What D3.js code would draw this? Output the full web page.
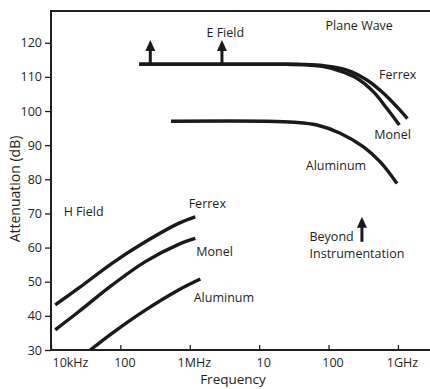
<!DOCTYPE html>
<html>
<head>
<meta charset="utf-8">
<script src="https://cdn.jsdelivr.net/npm/d3@7/dist/d3.min.js"></script>
<style>
  html, body { margin: 0; padding: 0; background: #fff; }
  text { font-family: "Open Sans", sans-serif; fill: #231f20; }
</style>
</head>
<body>
<svg id="chart" width="430" height="389"></svg>
<script>
// ---- data (frequency in Hz, attenuation in dB) ----
const xTickValues = [1e4, 1e5, 1e6, 1e7, 1e8, 1e9];
const xTickLabels = ["10kHz", "100", "1MHz", "10", "100", "1GHz"];
const yTickValues = [30, 40, 50, 60, 70, 80, 90, 100, 110, 120];

// Plane wave (E field) curves
const eFerrexFreq = [1.87e5, 1.5e7, 4.2e7, 8.5e7, 1.84e8, 3.57e8, 6.2e8, 9.7e8, 1.37e9];
const eFerrexDb   = [113.7, 113.7, 113.65, 113.3, 112.0, 109.1, 105.2, 101.2, 97.8];
const eMonelFreq  = [1.87e5, 1.5e7, 4.2e7, 8.5e7, 1.47e8, 2.56e8, 4.45e8, 6.9e8, 1.05e9];
const eMonelDb    = [113.7, 113.7, 113.6, 113.0, 111.7, 109.6, 105.6, 100.8, 95.9];
const eAlumFreq   = [5.36e5, 1.2e7, 3.2e7, 6.8e7, 1.47e8, 3.19e8, 5.56e8, 9.7e8];
const eAlumDb     = [97.0, 97.0, 96.7, 95.9, 93.5, 89.5, 85.1, 78.8];

// H field curves
const hFerrexFreq = [1.15e4, 2.5e4, 7.57e4, 2.29e5, 6.9e5, 1.2e6];
const hFerrexDb   = [43.2, 48.1, 55.4, 61.7, 67.1, 69.0];
const hMonelFreq  = [1.15e4, 2.5e4, 7.57e4, 2.29e5, 6.9e5, 1.2e6];
const hMonelDb    = [35.9, 41.2, 49.0, 55.9, 60.95, 62.7];
const hAlumFreq   = [3.68e4, 7.57e4, 2.29e5, 6.9e5, 1.42e6];
const hAlumDb     = [30.0, 34.9, 41.7, 47.6, 50.8];

// arrows: [freq, base dB, tip dB]
const arrows = [[2.7e5, 113.7, 120.8], [2.91e6, 113.7, 120.8], [3.03e8, 61.7, 69.0]];

// annotation labels: [text, freq, dB, anchor]
const labels = [
  ["Plane Wave", 2.77e8, 123.7, "middle"],
  ["E Field", 3.25e6, 121.65, "middle"],
  ["Ferrex", 9.93e8, 109.4, "middle"],
  ["Monel", 8.4e8, 91.8, "middle"],
  ["Aluminum", 1.28e8, 82.7, "middle"],
  ["H Field", 2.95e4, 69.2, "middle"],
  ["Ferrex", 1.79e6, 71.6, "middle"],
  ["Monel", 2.28e6, 57.5, "middle"],
  ["Aluminum", 3.1e6, 44.1, "middle"],
  ["Beyond", 5.32e7, 61.9, "start"],
  ["Instrumentation", 5.32e7, 56.9, "start"]
];

// ---- drawing ----
const svg = d3.select("#chart");
const mLeft = 51, mRight = 430, mTop = 11, mBottom = 350;
const x = d3.scaleLog().domain([1e4, 2.9e9]).range([mLeft, mRight]);
const y = d3.scaleLinear().domain([30, 129.3]).range([mBottom, mTop]);
const ink = "#231f20";

// frame: left, top, bottom
svg.append("path")
  .attr("d", `M${mRight},${mTop}H${mLeft}V${mBottom}H${mRight}`)
  .attr("fill", "none").attr("stroke", ink).attr("stroke-width", 2);

// y axis ticks & labels
const yAxis = d3.axisLeft(y).tickValues(yTickValues).tickSize(6).tickPadding(3).tickFormat(d3.format("d"));
const gy = svg.append("g").attr("transform", `translate(${mLeft},0)`).call(yAxis);
gy.select(".domain").remove();
gy.selectAll(".tick line").attr("stroke", ink).attr("stroke-width", 1.3);
gy.selectAll(".tick text").attr("font-size", 12.5).attr("font-family", "Open Sans").attr("fill", ink);

// x axis ticks (inward) & labels
const xAxis = d3.axisBottom(x).tickValues(xTickValues).tickSize(-5).tickPadding(8)
  .tickFormat((d, i) => xTickLabels[i]);
const gx = svg.append("g").attr("transform", `translate(0,${mBottom})`).call(xAxis);
gx.select(".domain").remove();
gx.selectAll(".tick line").attr("stroke", ink).attr("stroke-width", 1.3);
gx.selectAll(".tick text").attr("font-size", 12.5).attr("font-family", "Open Sans").attr("fill", ink)
  .attr("dx", (d, i) => i === 0 ? 1 : 4)
  .attr("text-anchor", (d, i) => i === 0 ? "start" : "middle");

// axis titles
svg.append("text").attr("x", 233).attr("y", 384)
  .attr("text-anchor", "middle").attr("font-size", 13.5).text("Frequency");
svg.append("text").attr("transform", `translate(20,${189}) rotate(-90)`)
  .attr("text-anchor", "middle").attr("font-size", 14).text("Attenuation (dB)");

// curves
const line = d3.line().x(d => x(d[0])).y(d => y(d[1])).curve(d3.curveCatmullRom.alpha(0.5));
const series = [
  [eFerrexFreq, eFerrexDb], [eMonelFreq, eMonelDb], [eAlumFreq, eAlumDb],
  [hFerrexFreq, hFerrexDb], [hMonelFreq, hMonelDb], [hAlumFreq, hAlumDb]
];
series.forEach(([f, v]) => {
  svg.append("path").datum(f.map((d, i) => [d, v[i]]))
    .attr("d", line).attr("fill", "none").attr("stroke", "#1a1a1a")
    .attr("stroke-width", 3.4).attr("stroke-linecap", "butt");
});

// arrows
arrows.forEach(([f, b, t]) => {
  const ax = x(f), yb = y(b), yt = y(t);
  svg.append("line").attr("x1", ax).attr("x2", ax).attr("y1", yb).attr("y2", yt + 8)
    .attr("stroke", "#1a1a1a").attr("stroke-width", 3);
  svg.append("path").attr("d", `M${ax},${yt}L${ax - 5},${yt + 11}L${ax + 5},${yt + 11}Z`)
    .attr("fill", "#1a1a1a");
});

// annotations
labels.forEach(([t, f, v, a]) => {
  svg.append("text").attr("x", x(f)).attr("y", y(v)).attr("text-anchor", a)
    .attr("font-size", 12.5).text(t);
});
</script>
</body>
</html>
